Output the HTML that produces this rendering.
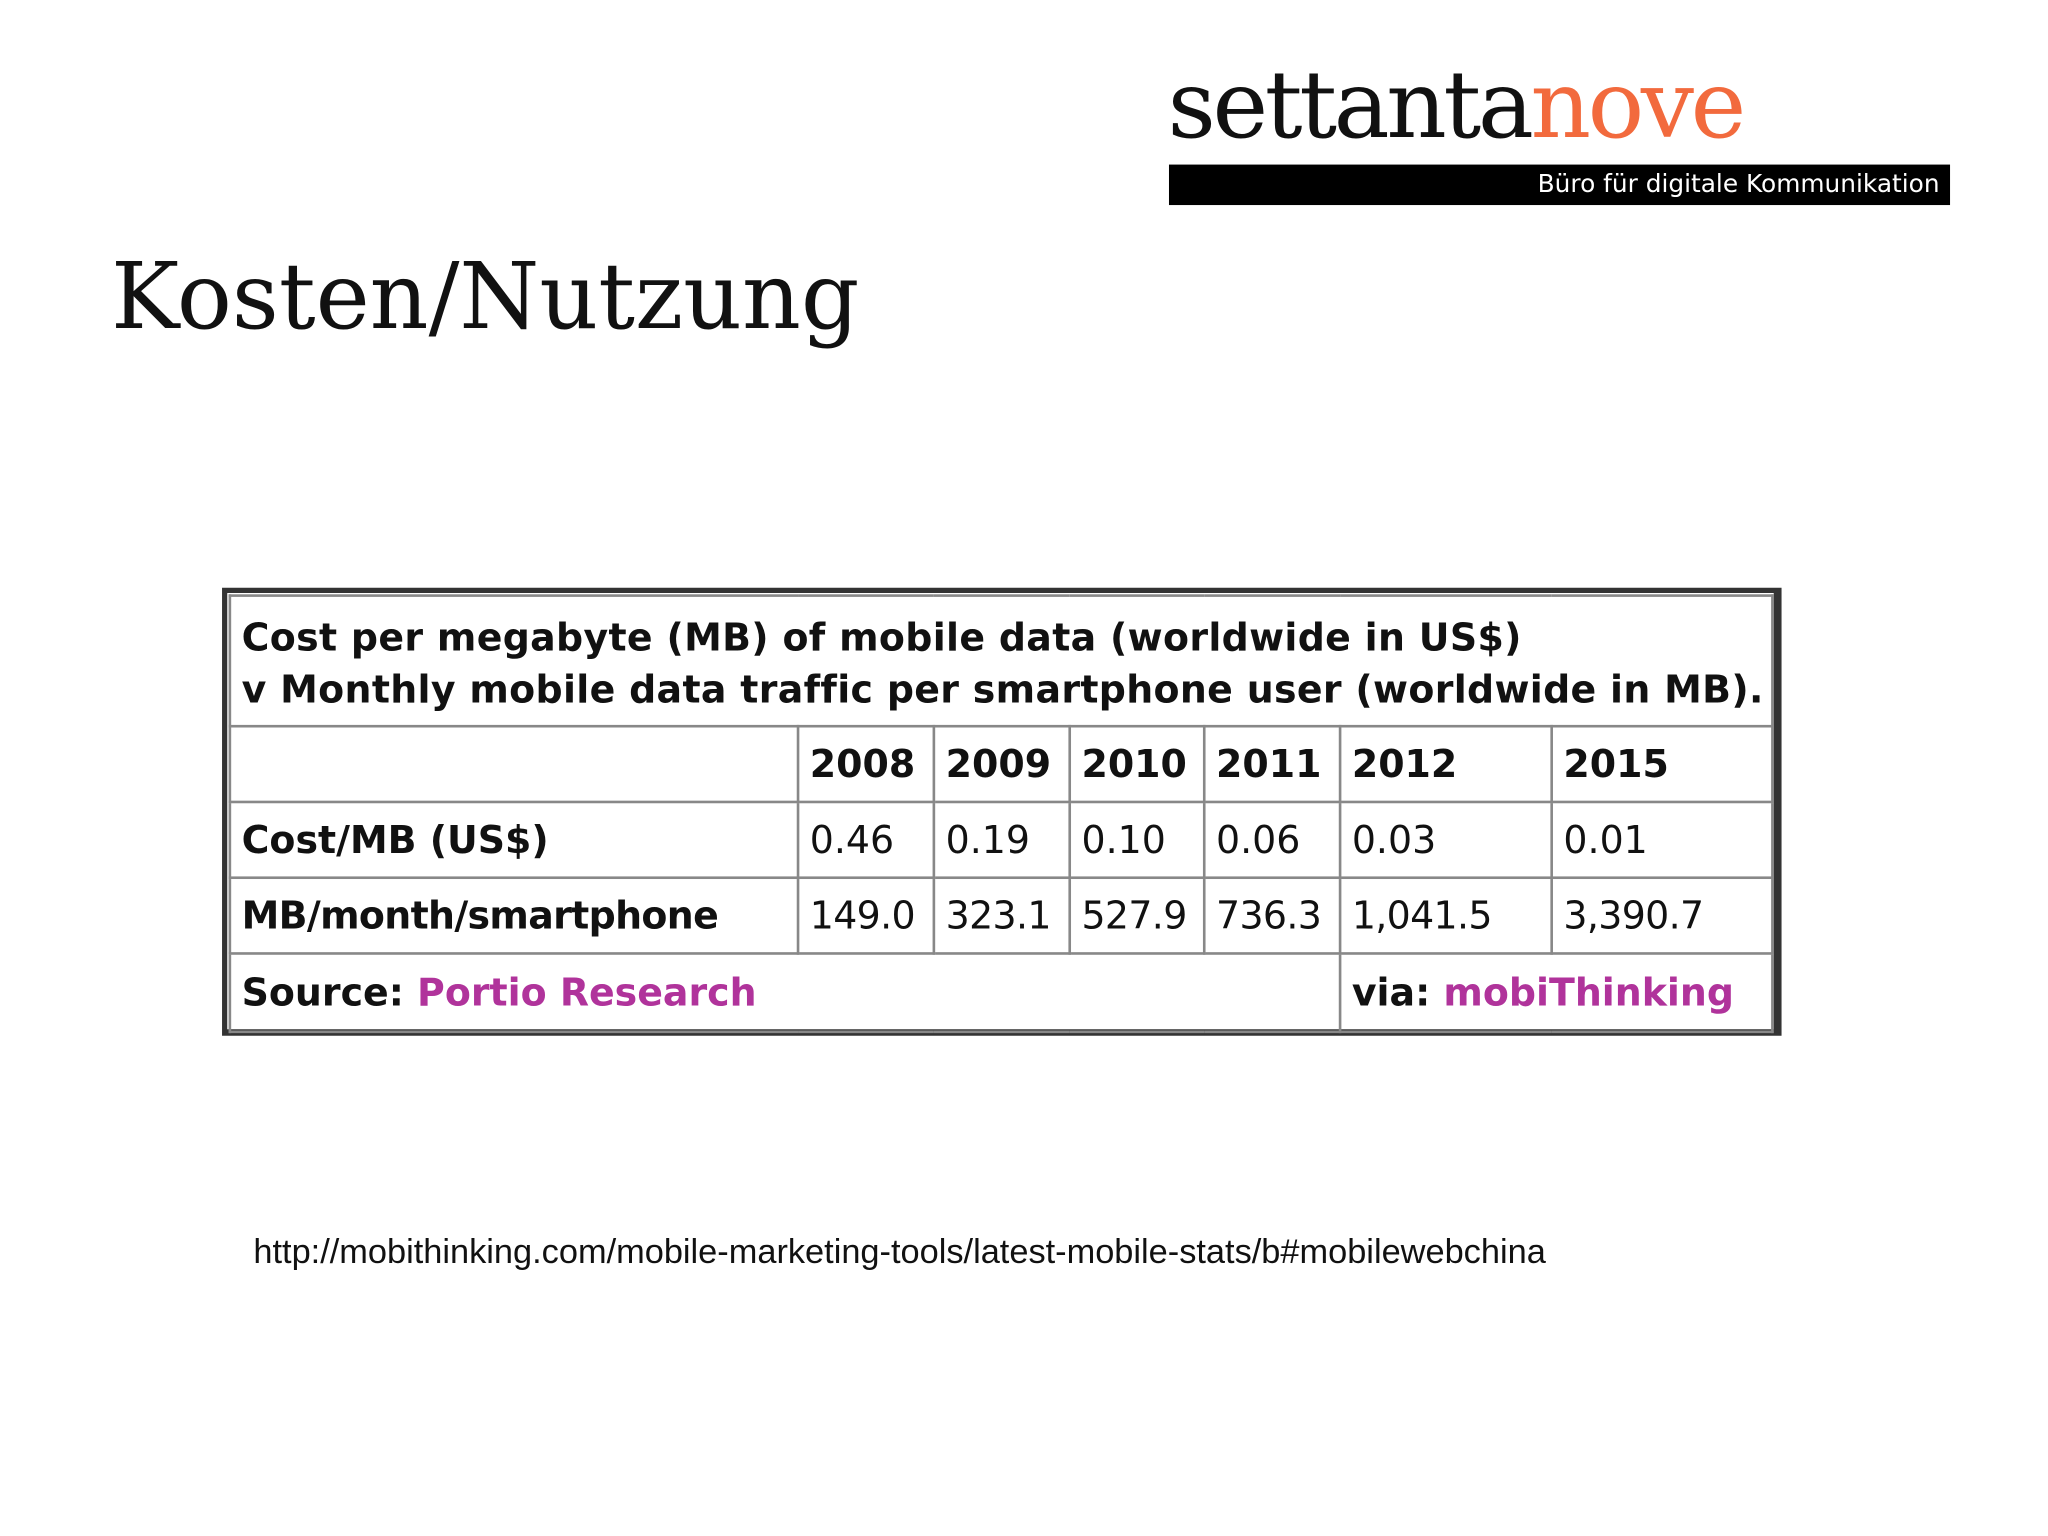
<!DOCTYPE html>
<html><head><meta charset="utf-8">
<style>
html,body{margin:0;padding:0;background:#fff;}
#root{position:absolute;left:0;top:0;width:1568px;height:1176px;transform:scale(1.306122);transform-origin:0 0;overflow:hidden;background:#fff;}
.abs{position:absolute;}
#logo{left:894px;top:44px;font-family:"DejaVu Serif","Liberation Serif",serif;font-size:72px;letter-spacing:-2.6px;color:#111;line-height:1;white-space:nowrap;}
#logo span{color:#f26a3d;}
#bar{left:895px;top:126px;width:598px;height:31px;background:#000;}
#bar div{position:absolute;right:8px;top:4px;color:#fff;font-family:"DejaVu Sans","Liberation Sans",sans-serif;font-size:19px;}
#title{left:85px;top:192px;font-family:"DejaVu Serif","Liberation Serif",serif;font-size:70px;color:#111;line-height:1;white-space:nowrap;}
#tbl{left:170px;top:450px;width:1194px;height:343px;box-sizing:border-box;border:4px solid #333;border-right-width:6px;border-bottom-width:5px;}
table{border-collapse:collapse;table-layout:fixed;position:absolute;left:1px;top:1px;width:1183px;height:334px;font-family:"DejaVu Sans","Verdana",sans-serif;font-size:29px;color:#111;}
td{border:2px solid #888;padding:0 0 0 8px;white-space:nowrap;overflow:visible;}
.b{font-weight:bold;}
.p{color:#b0339b;font-weight:bold;}
#url{left:194px;top:943px;font-family:"Liberation Sans",Arial,sans-serif;font-size:26.3px;color:#111;white-space:nowrap;}
</style></head><body>
<div id="root">
<div id="logo" class="abs">settanta<span>nove</span></div>
<div id="bar" class="abs"><div>Büro für digitale Kommunikation</div></div>
<div id="title" class="abs">Kosten/Nutzung</div>
<div id="tbl" class="abs">
<table>
<colgroup><col style="width:435px"><col style="width:104px"><col style="width:104px"><col style="width:103px"><col style="width:104px"><col style="width:162px"><col></colgroup>
<tr style="height:100px"><td colspan="7" class="b" style="line-height:40px;padding-top:4px;letter-spacing:0.25px">Cost per megabyte (MB) of mobile data (worldwide in US$)<br>v Monthly mobile data traffic per smartphone user (worldwide in MB).</td></tr>
<tr style="height:58px" class="b"><td></td><td>2008</td><td>2009</td><td>2010</td><td>2011</td><td>2012</td><td>2015</td></tr>
<tr style="height:58px"><td class="b">Cost/MB (US$)</td><td>0.46</td><td>0.19</td><td>0.10</td><td>0.06</td><td>0.03</td><td>0.01</td></tr>
<tr style="height:58px;letter-spacing:-0.5px"><td class="b">MB/month/smartphone</td><td>149.0</td><td>323.1</td><td>527.9</td><td>736.3</td><td>1,041.5</td><td>3,390.7</td></tr>
<tr style="height:60px"><td colspan="5" class="b">Source: <span class="p">Portio Research</span></td><td colspan="2" class="b">via: <span class="p">mobiThinking</span></td></tr>
</table>
</div>
<div id="url" class="abs">http://mobithinking.com/mobile-marketing-tools/latest-mobile-stats/b#mobilewebchina</div>
</div>
</body></html>
